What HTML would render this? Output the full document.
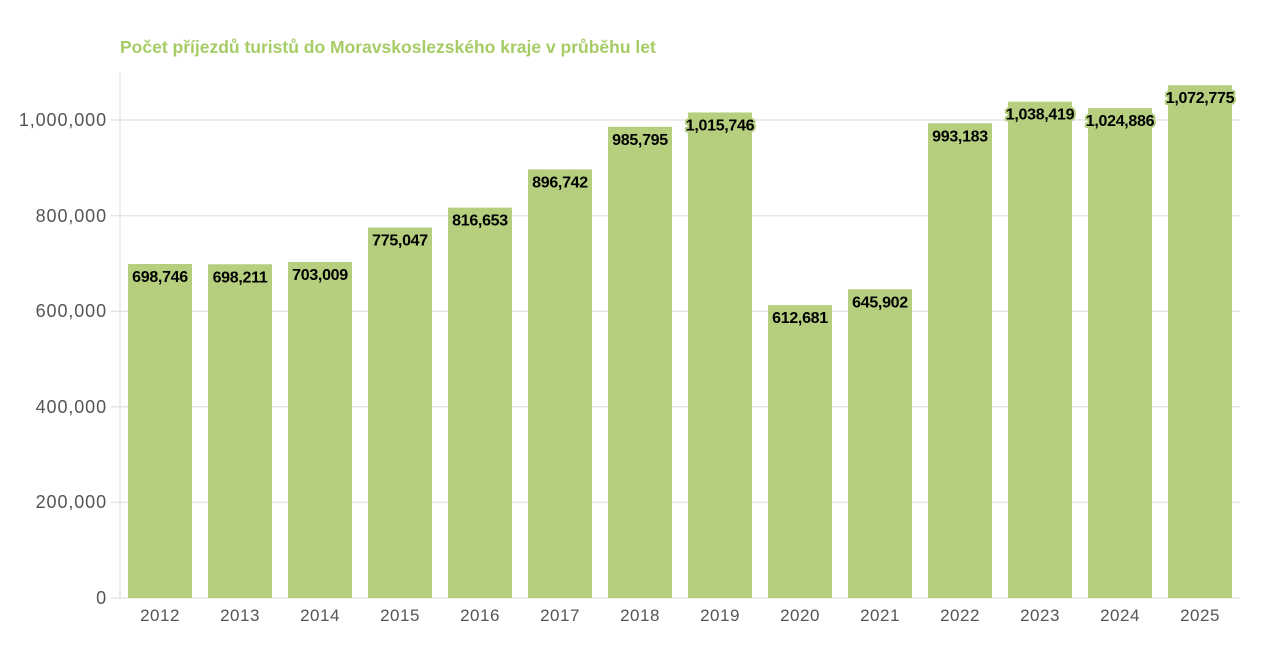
<!DOCTYPE html>
<html><head><meta charset="utf-8"><style>
html,body{margin:0;padding:0;background:#fff;}
svg{display:block;font-family:"Liberation Sans",sans-serif;}
.lbl{font-size:16px;font-weight:bold;fill:#000;stroke:#b5cf7e;stroke-width:4px;paint-order:stroke;stroke-linejoin:round;text-anchor:middle;letter-spacing:-0.3px;}
.yt{font-size:18px;fill:#555;text-anchor:end;letter-spacing:0.9px;}
.xt{font-size:17px;fill:#555;text-anchor:middle;letter-spacing:0.5px;}
</style></head><body>
<svg width="1284" height="664" viewBox="0 0 1284 664">
<text x="120" y="53" font-size="17.5" font-weight="bold" fill="#a6cc66">Počet příjezdů turistů do Moravskoslezského kraje v průběhu let</text>
<g stroke="#e6e6e6" stroke-width="1.5">
<line x1="111" y1="120" x2="1240" y2="120"/>
<line x1="111" y1="215.6" x2="1240" y2="215.6"/>
<line x1="111" y1="311.2" x2="1240" y2="311.2"/>
<line x1="111" y1="406.8" x2="1240" y2="406.8"/>
<line x1="111" y1="502.4" x2="1240" y2="502.4"/>
<line x1="111" y1="598" x2="1240" y2="598"/>
<line x1="120" y1="72" x2="120" y2="598"/>
</g>
<g class="yt">
<text x="107" y="126">1,000,000</text>
<text x="107" y="222">800,000</text>
<text x="107" y="317">600,000</text>
<text x="107" y="413">400,000</text>
<text x="107" y="508">200,000</text>
<text x="107" y="604">0</text>
</g>
<g fill="#b5cf7e" id="bars"></g>
<g id="labels"></g>
<g id="xt"></g>
</svg>
<script>
var v=[698746,698211,703009,775047,816653,896742,985795,1015746,612681,645902,993183,1038419,1024886,1072775];
var ns="http://www.w3.org/2000/svg";
var b=document.getElementById('bars'),l=document.getElementById('labels'),x=document.getElementById('xt');
v.forEach(function(d,i){
 var cx=160+80*i, top=598-d*0.000478;
 var r=document.createElementNS(ns,'rect');
 r.setAttribute('x',cx-32);r.setAttribute('y',top);r.setAttribute('width',64);r.setAttribute('height',598-top);
 b.appendChild(r);
 var t=document.createElementNS(ns,'text');t.setAttribute('class','lbl');
 t.setAttribute('x',cx);t.setAttribute('y',top+18);t.textContent=d.toLocaleString('en-US');l.appendChild(t);
 var y=document.createElementNS(ns,'text');y.setAttribute('class','xt');
 y.setAttribute('x',cx);y.setAttribute('y',621);y.textContent=2012+i;x.appendChild(y);
});
</script>
</body></html>
